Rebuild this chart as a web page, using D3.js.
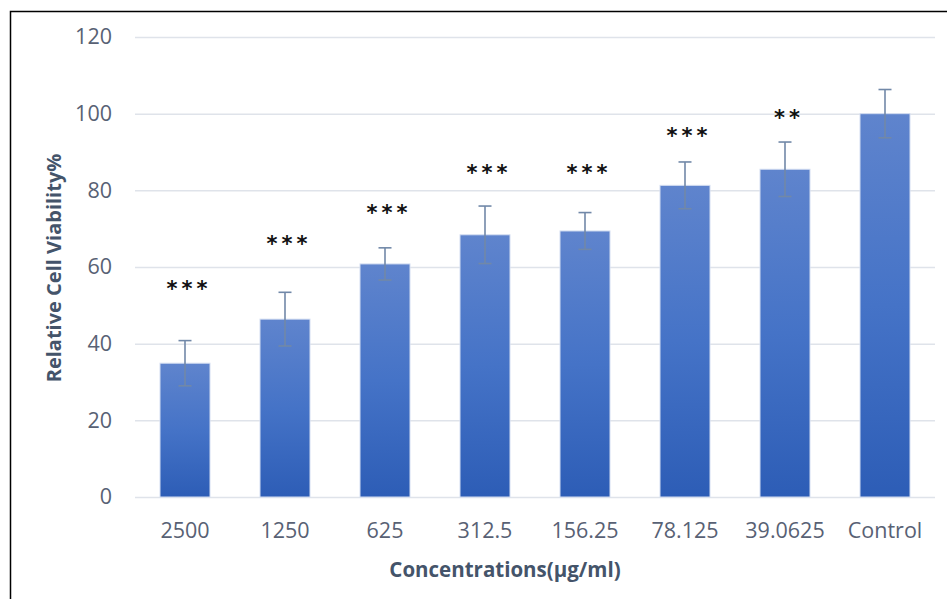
<!DOCTYPE html>
<html>
<head>
<meta charset="utf-8">
<script src="https://cdn.jsdelivr.net/npm/d3@7"></script>
<style>
  html, body { margin: 0; padding: 0; background: #fff; }
  svg { display: block; }
</style>
</head>
<body>
<svg id="chart" width="947" height="599"></svg>
<script>
// ---- data ----
const categories = ["2500", "1250", "625", "312.5", "156.25", "78.125", "39.0625", "Control"];
const viability = [34.9, 46.4, 60.8, 68.4, 69.4, 81.3, 85.5, 100.0];
const errorSD = [5.9, 7.0, 4.2, 7.5, 4.8, 6.1, 7.1, 6.3];
const significance = ["***", "***", "***", "***", "***", "***", "**", ""];
const sigLabelY = [55.5, 67.2, 75.3, 85.6, 85.6, 95.3, 100.1, 0];
const yTicks = [0, 20, 40, 60, 80, 100, 120];
const yTitle = "Relative Cell Viability%";
const xTitle = "Concentrations(μg/ml)";

// ---- layout ----
const svg = d3.select("#chart");
const plot = { left: 135, right: 935, top: 37, bottom: 497 };

const x = d3.scaleBand().domain(categories).range([plot.left, plot.right])
  .paddingInner(0.5).paddingOuter(0.25);
const y = d3.scaleLinear().domain([0, 120]).range([plot.bottom, plot.top]);

// frame
svg.append("rect").attr("x", 10.5).attr("y", 11.5).attr("width", 1000).attr("height", 1000)
  .attr("fill", "none").attr("stroke", "#000").attr("stroke-width", 1.5);

// gradient
const defs = svg.append("defs");
const grad = defs.append("linearGradient").attr("id", "barGrad")
  .attr("x1", 0).attr("y1", 0).attr("x2", 0).attr("y2", 1);
grad.append("stop").attr("offset", "0%").attr("stop-color", "#5f84cd");
grad.append("stop").attr("offset", "50%").attr("stop-color", "#4573c7");
grad.append("stop").attr("offset", "100%").attr("stop-color", "#2d5db6");

// gridlines
const yAxis = d3.axisLeft(y).tickValues(yTicks).tickSize(-(plot.right - plot.left)).tickPadding(23);
const gy = svg.append("g").attr("transform", `translate(${plot.left},0)`).call(yAxis);
gy.select(".domain").remove();
gy.selectAll(".tick line").attr("stroke", "#dfe3ea").attr("stroke-width", 1.5);
gy.selectAll(".tick text").attr("fill", "#586174")
  .style("font-family", "'Open Sans', sans-serif").style("font-size", "21.5px");

// x axis labels
const xAxis = d3.axisBottom(x).tickSize(0).tickPadding(0);
const gx = svg.append("g").attr("transform", `translate(0,${plot.bottom})`).call(xAxis);
gx.select(".domain").remove();
gx.selectAll(".tick text").attr("fill", "#586174").attr("dy", null).attr("y", 40.5)
  .style("font-family", "'Open Sans', sans-serif").style("font-size", "21.5px");

// bars
svg.append("g").selectAll("rect").data(categories).join("rect")
  .attr("x", d => x(d))
  .attr("y", (d, i) => y(viability[i]))
  .attr("width", x.bandwidth())
  .attr("height", (d, i) => y(0) - y(viability[i]))
  .attr("fill", "url(#barGrad)")
  .attr("stroke", "#d3ddf1").attr("stroke-width", 1);

// error bars
const eg = svg.append("g").attr("stroke", "#7188a8").attr("stroke-width", 1.6).attr("fill", "none");
const cap = 6.5;
categories.forEach((c, i) => {
  const cx = x(c) + x.bandwidth() / 2;
  const hi = y(viability[i] + errorSD[i]);
  const lo = y(viability[i] - errorSD[i]);
  eg.append("line").attr("x1", cx).attr("x2", cx).attr("y1", hi).attr("y2", lo);
  eg.append("line").attr("x1", cx - cap).attr("x2", cx + cap).attr("y1", hi).attr("y2", hi);
  eg.append("line").attr("x1", cx - cap).attr("x2", cx + cap).attr("y1", lo).attr("y2", lo);
});

// significance stars
const sg = svg.append("g");
categories.forEach((c, i) => {
  const n = significance[i].length;
  if (!n) return;
  const cx = x(c) + x.bandwidth() / 2 + 2;
  for (let k = 0; k < n; k++) {
    sg.append("text")
      .attr("x", cx + (k - (n - 1) / 2) * 15)
      .attr("y", y(sigLabelY[i]) + 11.5)
      .attr("text-anchor", "middle")
      .attr("fill", "#111")
      .style("font-family", "'DejaVu Sans', sans-serif")
      .style("font-weight", "bold")
      .style("font-size", "21px")
      .text("*");
  }
});

// axis titles
svg.append("text")
  .attr("transform", `translate(61,${(plot.top + plot.bottom) / 2 + 1}) rotate(-90)`)
  .attr("text-anchor", "middle")
  .attr("fill", "#44546a")
  .style("font-family", "'Open Sans', sans-serif").style("font-weight", "bold").style("font-size", "20px")
  .text(yTitle);

svg.append("text")
  .attr("x", 505).attr("y", 577)
  .attr("text-anchor", "middle")
  .attr("fill", "#44546a")
  .style("font-family", "'Open Sans', sans-serif").style("font-weight", "bold").style("font-size", "20.5px")
  .text(xTitle);
</script>
</body>
</html>
